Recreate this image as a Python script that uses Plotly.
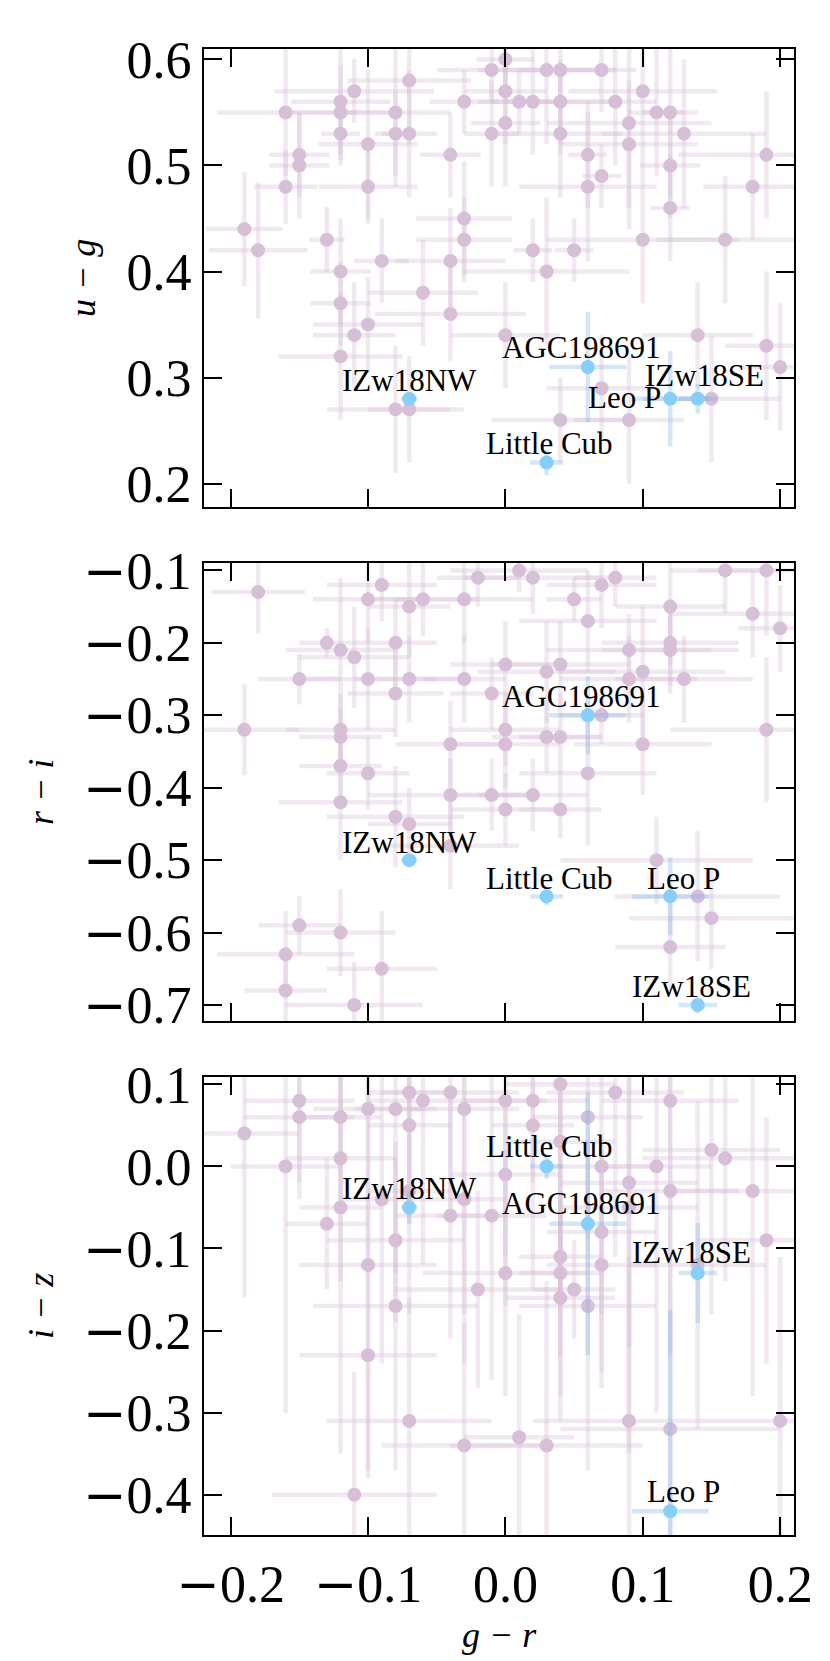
import plotly.graph_objects as go

# ---------------- data ----------------
p1_gr = [-0.19, -0.18, -0.16, -0.16, -0.15, -0.15, -0.13, -0.12, -0.12, -0.12,
         -0.12, -0.12, -0.12, -0.11, -0.11, -0.10, -0.10, -0.10, -0.09, -0.08,
         -0.08, -0.08, -0.07, -0.07, -0.07, -0.06, -0.04, -0.04, -0.04, -0.03,
         -0.03, -0.03, -0.01, -0.01, 0.00, 0.00, 0.00, 0.00, 0.01, 0.02,
         0.02, 0.03, 0.03, 0.04, 0.04, 0.04, 0.04, 0.05, 0.06, 0.06,
         0.07, 0.07, 0.07, 0.08, 0.09, 0.09, 0.09, 0.10, 0.10, 0.11,
         0.12, 0.12, 0.12, 0.13, 0.14, 0.15, 0.16, 0.18, 0.19, 0.19,
         0.20]
p1_ug = [0.44, 0.42, 0.55, 0.48, 0.51, 0.50, 0.43, 0.56, 0.55, 0.53,
         0.40, 0.37, 0.32, 0.57, 0.34, 0.52, 0.48, 0.35, 0.41, 0.55,
         0.53, 0.27, 0.58, 0.53, 0.27, 0.38, 0.51, 0.41, 0.36, 0.56,
         0.45, 0.43, 0.59, 0.53, 0.60, 0.57, 0.54, 0.34, 0.56, 0.56,
         0.42, 0.59, 0.40, 0.59, 0.56, 0.53, 0.26, 0.42, 0.51, 0.48,
         0.59, 0.49, 0.29, 0.56, 0.54, 0.52, 0.26, 0.57, 0.43, 0.55,
         0.55, 0.50, 0.46, 0.53, 0.34, 0.28, 0.43, 0.48, 0.51, 0.33,
         0.31]
p1_gr_err = [0.028, 0.036, 0.050, 0.023, 0.022, 0.022, 0.013, 0.036, 0.040, 0.014,
             0.022, 0.022, 0.045, 0.058, 0.030, 0.036, 0.036, 0.040, 0.020, 0.040,
             0.015, 0.050, 0.045, 0.020, 0.030, 0.040, 0.022, 0.040, 0.055, 0.025,
             0.035, 0.035, 0.040, 0.020, 0.021, 0.030, 0.025, 0.040, 0.030, 0.030,
             0.014, 0.050, 0.060, 0.030, 0.040, 0.045, 0.050, 0.014, 0.014, 0.050,
             0.025, 0.014, 0.040, 0.030, 0.060, 0.050, 0.040, 0.054, 0.070, 0.020,
             0.020, 0.022, 0.014, 0.060, 0.040, 0.050, 0.050, 0.036, 0.064, 0.030,
             0.030]
p1_ug_err = [0.054, 0.064, 0.060, 0.035, 0.040, 0.050, 0.031, 0.050, 0.045, 0.030,
             0.050, 0.040, 0.060, 0.030, 0.050, 0.070, 0.035, 0.045, 0.040, 0.070,
             0.040, 0.060, 0.060, 0.060, 0.050, 0.050, 0.040, 0.050, 0.045, 0.030,
             0.054, 0.040, 0.030, 0.050, 0.040, 0.050, 0.060, 0.050, 0.030, 0.050,
             0.030, 0.070, 0.070, 0.080, 0.040, 0.060, 0.040, 0.030, 0.050, 0.070,
             0.040, 0.030, 0.050, 0.060, 0.100, 0.060, 0.060, 0.080, 0.060, 0.060,
             0.080, 0.050, 0.050, 0.070, 0.050, 0.060, 0.060, 0.050, 0.060, 0.070,
             0.060]

p2_gr = [-0.19, -0.18, -0.16, -0.16, -0.15, -0.15, -0.13, -0.12, -0.12, -0.12,
         -0.12, -0.12, -0.12, -0.11, -0.11, -0.10, -0.10, -0.10, -0.09, -0.09,
         -0.08, -0.08, -0.08, -0.07, -0.07, -0.07, -0.06, -0.04, -0.04, -0.04,
         -0.03, -0.03, -0.02, -0.01, -0.01, 0.00, 0.00, 0.00, 0.00, 0.01,
         0.02, 0.02, 0.03, 0.03, 0.04, 0.04, 0.04, 0.05, 0.06, 0.06,
         0.07, 0.07, 0.08, 0.09, 0.09, 0.10, 0.10, 0.11, 0.12, 0.12,
         0.12, 0.12, 0.13, 0.14, 0.15, 0.16, 0.18, 0.19, 0.19, 0.20]
p2_ri = [-0.32, -0.13, -0.63, -0.68, -0.25, -0.59, -0.20, -0.21, -0.32, -0.33,
         -0.37, -0.42, -0.60, -0.22, -0.70, -0.14, -0.25, -0.38, -0.12, -0.65,
         -0.20, -0.27, -0.44, -0.15, -0.25, -0.45, -0.14, -0.34, -0.41, -0.48,
         -0.14, -0.25, -0.11, -0.27, -0.41, -0.23, -0.32, -0.34, -0.43, -0.10,
         -0.11, -0.41, -0.24, -0.33, -0.23, -0.33, -0.43, -0.14, -0.17, -0.38,
         -0.12, -0.30, -0.11, -0.21, -0.25, -0.24, -0.34, -0.50, -0.15, -0.20,
         -0.21, -0.62, -0.25, -0.55, -0.58, -0.10, -0.16, -0.10, -0.32, -0.18]
p2_gr_err = [0.040, 0.034, 0.050, 0.030, 0.030, 0.030, 0.020, 0.040, 0.040, 0.030,
             0.030, 0.045, 0.040, 0.040, 0.050, 0.040, 0.050, 0.030, 0.040, 0.040,
             0.030, 0.035, 0.050, 0.030, 0.040, 0.030, 0.040, 0.040, 0.060, 0.050,
             0.050, 0.030, 0.030, 0.030, 0.030, 0.040, 0.040, 0.040, 0.040, 0.050,
             0.050, 0.040, 0.050, 0.040, 0.050, 0.030, 0.030, 0.020, 0.050, 0.050,
             0.040, 0.030, 0.030, 0.060, 0.050, 0.060, 0.050, 0.070, 0.040, 0.050,
             0.050, 0.040, 0.050, 0.060, 0.060, 0.040, 0.060, 0.050, 0.070, 0.030]
p2_ri_err = [0.063, 0.057, 0.060, 0.050, 0.035, 0.040, 0.020, 0.100, 0.050, 0.040,
             0.050, 0.080, 0.060, 0.070, 0.060, 0.060, 0.070, 0.050, 0.050, 0.080,
             0.060, 0.060, 0.070, 0.070, 0.060, 0.050, 0.050, 0.060, 0.050, 0.060,
             0.060, 0.060, 0.040, 0.050, 0.050, 0.060, 0.050, 0.060, 0.050, 0.030,
             0.050, 0.050, 0.070, 0.050, 0.060, 0.060, 0.040, 0.030, 0.070, 0.100,
             0.060, 0.040, 0.040, 0.050, 0.060, 0.090, 0.070, 0.060, 0.080, 0.060,
             0.060, 0.060, 0.060, 0.090, 0.070, 0.060, 0.060, 0.090, 0.100, 0.060]

p3_gr = [-0.19, -0.16, -0.15, -0.15, -0.13, -0.12, -0.12, -0.12, -0.11, -0.10,
         -0.10, -0.10, -0.09, -0.08, -0.08, -0.08, -0.07, -0.07, -0.07, -0.07,
         -0.06, -0.04, -0.04, -0.03, -0.03, -0.03, -0.02, -0.01, 0.00, 0.00,
         0.00, 0.01, 0.02, 0.02, 0.03, 0.04, 0.04, 0.04, 0.04, 0.04,
         0.05, 0.06, 0.06, 0.07, 0.07, 0.07, 0.08, 0.09, 0.09, 0.09,
         0.11, 0.12, 0.12, 0.12, 0.14, 0.15, 0.16, 0.18, 0.19, 0.20]
p3_iz = [0.04, 0.00, 0.08, 0.06, -0.07, 0.06, 0.01, -0.05, -0.40, 0.07,
         -0.12, -0.23, -0.04, 0.07, -0.09, -0.17, 0.09, 0.05, -0.03, -0.31,
         0.08, 0.09, -0.06, 0.07, -0.04, -0.34, -0.15, -0.06, 0.08, -0.01,
         -0.13, -0.33, 0.08, 0.05, -0.34, 0.10, 0.03, -0.11, -0.13, -0.16,
         -0.15, 0.06, -0.17, 0.00, -0.08, -0.12, 0.09, -0.02, -0.05, -0.31,
         0.00, 0.08, -0.03, -0.32, -0.12, 0.02, 0.01, -0.03, -0.09, -0.31]
p3_gr_err = [0.040, 0.040, 0.040, 0.040, 0.030, 0.030, 0.040, 0.030, 0.060, 0.040,
             0.050, 0.050, 0.030, 0.030, 0.050, 0.060, 0.030, 0.030, 0.030, 0.060,
             0.040, 0.050, 0.040, 0.040, 0.030, 0.060, 0.060, 0.040, 0.030, 0.040,
             0.060, 0.040, 0.040, 0.030, 0.070, 0.040, 0.040, 0.030, 0.030, 0.040,
             0.030, 0.040, 0.050, 0.040, 0.040, 0.040, 0.050, 0.050, 0.050, 0.070,
             0.040, 0.050, 0.050, 0.080, 0.050, 0.050, 0.060, 0.060, 0.050, 0.040]
p3_iz_err = [0.200, 0.300, 0.120, 0.080, 0.080, 0.100, 0.150, 0.300, 0.150, 0.150,
             0.250, 0.150, 0.200, 0.200, 0.100, 0.200, 0.150, 0.100, 0.150, 0.150,
             0.200, 0.150, 0.150, 0.250, 0.200, 0.150, 0.120, 0.200, 0.250, 0.100,
             0.150, 0.150, 0.100, 0.200, 0.200, 0.250, 0.200, 0.200, 0.100, 0.120,
             0.060, 0.150, 0.200, 0.250, 0.100, 0.150, 0.200, 0.200, 0.300, 0.200,
             0.300, 0.150, 0.200, 0.250, 0.200, 0.200, 0.150, 0.250, 0.150, 0.200]

# highlighted objects
names = ["IZw18NW", "AGC198691", "Leo P", "IZw18SE", "Little Cub"]
hl_gr = [-0.07, 0.06, 0.12, 0.14, 0.03]
hl_gr_err = [0.006, 0.028, 0.028, 0.014, 0.012]
hl_ug = [0.28, 0.31, 0.28, 0.28, 0.22]
hl_ug_err = [0.006, 0.052, 0.045, 0.014, 0.012]
hl_ri = [-0.50, -0.30, -0.55, -0.70, -0.55]
hl_ri_err = [0.008, 0.054, 0.054, 0.012, 0.012]
hl_iz = [-0.05, -0.07, -0.42, -0.13, 0.00]
hl_iz_err = [0.020, 0.160, 0.245, 0.061, 0.015]

x_ticks = [-0.2, -0.1, 0.0, 0.1, 0.2]
ug_ticks = [0.2, 0.3, 0.4, 0.5, 0.6]
ri_ticks = [-0.7, -0.6, -0.5, -0.4, -0.3, -0.2, -0.1]
iz_ticks = [-0.4, -0.3, -0.2, -0.1, 0.0, 0.1]

# ---------------- styling ----------------
PINK = "#D8BFD8"
PINK_ERR = "rgba(216,191,216,0.35)"
BLUE = "#87CEFA"
BLUE_ERR = "rgba(110,175,235,0.30)"
FONT = "Liberation Serif"
MINUS = "<span style='font-family:DejaVu Serif'>\u2212</span>"


def tick_text(vals):
    out = []
    for v in vals:
        s = f"{abs(v):.1f}"
        out.append(MINUS + s if v < -1e-9 else s)
    return out


W, H = 830, 1661
ML, MR, MT, MB = 196, 44, 41, 134
PH = H - MT - MB
panel_h = 458.0 / PH
gap = 56.0 / PH
domains = [[1 - panel_h, 1.0],
           [1 - 2 * panel_h - gap, 1 - panel_h - gap],
           [0.0, panel_h]]

x_range = [-0.2194, 0.2101]
y_ranges = [[0.178, 0.6098], [-0.722, -0.0898], [-0.449, 0.1089]]
y_tickvals = [ug_ticks, ri_ticks, iz_ticks]

panels = [
    (p1_gr, p1_ug, p1_gr_err, p1_ug_err, hl_ug, hl_ug_err),
    (p2_gr, p2_ri, p2_gr_err, p2_ri_err, hl_ri, hl_ri_err),
    (p3_gr, p3_iz, p3_gr_err, p3_iz_err, hl_iz, hl_iz_err),
]

# label offsets (xshift, yshift, xanchor) per panel, per object
label_pos = [
    [(0, 18, "center"), (-7, 19, "center"), (-7, 1, "right"), (7, 23, "center"), (3, 19, "center")],
    [(0, 18, "center"), (-7, 19, "center"), (13, 18, "center"), (-6, 19, "center"), (3, 18, "center")],
    [(0, 19, "center"), (-7, 20, "center"), (13, 20, "center"), (-6, 21, "center"), (3, 20, "center")],
]

fig = go.Figure()
annotations = []
for i, (gx, gy, gxe, gye, hy, hye) in enumerate(panels):
    sfx = "" if i == 0 else str(i + 1)
    xa, ya = "x" + sfx, "y" + sfx
    fig.add_trace(go.Scatter(
        x=gx, y=gy, mode="markers", xaxis=xa, yaxis=ya,
        marker=dict(color=PINK, size=14, line=dict(width=0)),
        error_x=dict(type="data", array=gxe, color=PINK_ERR, thickness=4.5, width=0),
        error_y=dict(type="data", array=gye, color=PINK_ERR, thickness=4.5, width=0),
        showlegend=False, hoverinfo="skip"))
    fig.add_trace(go.Scatter(
        x=hl_gr, y=hy, mode="markers", xaxis=xa, yaxis=ya,
        marker=dict(color=BLUE, size=14, line=dict(width=0)),
        error_x=dict(type="data", array=hl_gr_err, color=BLUE_ERR, thickness=4.5, width=0),
        error_y=dict(type="data", array=hye, color=BLUE_ERR, thickness=4.5, width=0),
        showlegend=False, hoverinfo="skip"))
    for k, nm in enumerate(names):
        xs, ys, xanc = label_pos[i][k]
        annotations.append(dict(
            x=hl_gr[k], y=hy[k], xref=xa, yref=ya, text=nm, showarrow=False,
            xanchor=xanc, yanchor="middle", xshift=xs, yshift=ys,
            font=dict(family=FONT, size=31, color="black")))

axis_common = dict(
    showgrid=False, zeroline=False, showline=True, linecolor="black", linewidth=2,
    mirror="ticks", ticks="inside", ticklen=18, tickwidth=2, tickcolor="black",
    tickmode="array", tickfont=dict(family=FONT, size=52, color="black"))

layout = dict(width=W, height=H, margin=dict(l=ML, r=MR, t=MT, b=MB),
              paper_bgcolor="white", plot_bgcolor="white", showlegend=False)
for i in range(3):
    sfx = "" if i == 0 else str(i + 1)
    layout["xaxis" + sfx] = dict(axis_common, range=x_range, tickvals=x_ticks,
                                 ticktext=tick_text(x_ticks),
                                 anchor="y" + sfx, domain=[0, 1],
                                 showticklabels=(i == 2), ticklabelstandoff=3)
    layout["yaxis" + sfx] = dict(axis_common, range=y_ranges[i], tickvals=y_tickvals[i],
                                 ticktext=tick_text(y_tickvals[i]),
                                 anchor="x" + sfx, domain=domains[i], ticklabelstandoff=0)


def px_to_paper_x(px):
    return (px - ML) / (W - ML - MR)


def px_to_paper_y(py):
    return 1 - (py - MT) / PH


ytitles = ["u \u2212 g", "r \u2212 i", "i \u2212 z"]
ytitle_x = [75, 33, 33]
for i in range(3):
    annotations.append(dict(
        x=px_to_paper_x(ytitle_x[i]), y=(domains[i][0] + domains[i][1]) / 2,
        xref="paper", yref="paper", text=ytitles[i], showarrow=False, textangle=-90,
        xanchor="center", yanchor="middle",
        font=dict(family=FONT, size=36, color="black", style="italic")))
annotations.append(dict(
    x=0.5, y=px_to_paper_y(1627), xref="paper", yref="paper", text="g \u2212 r",
    showarrow=False, xanchor="center", yanchor="middle",
    font=dict(family=FONT, size=36, color="black", style="italic")))

layout["annotations"] = annotations
fig.update_layout(**layout)
fig.write_html("out.html")
